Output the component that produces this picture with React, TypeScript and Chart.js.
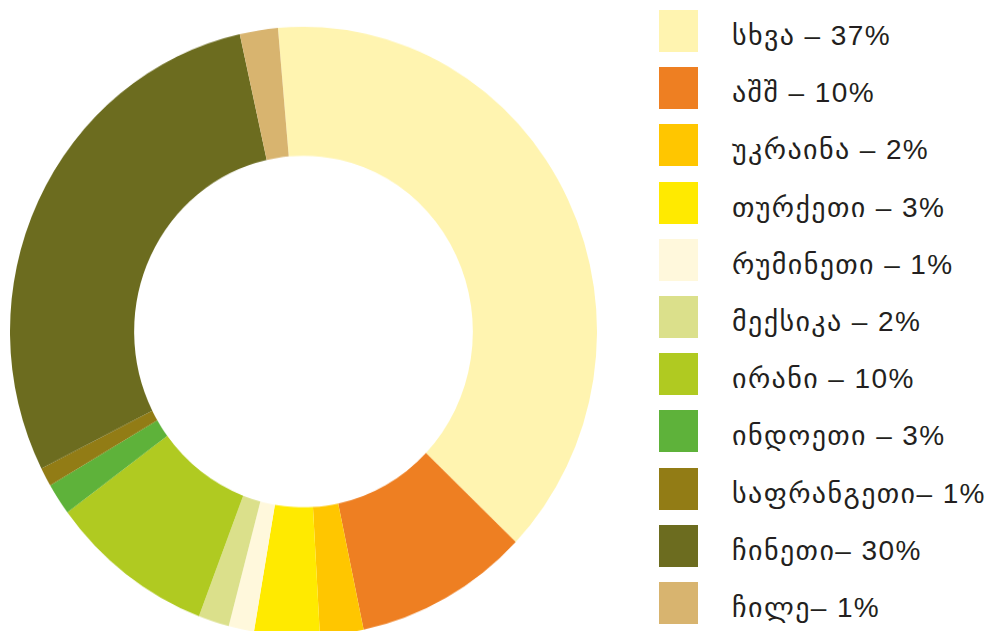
import React, { useEffect, useRef } from "react";
import { Chart, registerables } from "chart.js";

Chart.register(...registerables);

const labels = [
  "სხვა – 37%",
  "აშშ – 10%",
  "უკრაინა – 2%",
  "თურქეთი – 3%",
  "რუმინეთი – 1%",
  "მექსიკა – 2%",
  "ირანი – 10%",
  "ინდოეთი – 3%",
  "საფრანგეთი– 1%",
  "ჩინეთი– 30%",
  "ჩილე– 1%",
];

// slice sizes (degrees converted to %)
const sliceValues = [38.6, 9.6, 2.4, 3.6, 1.4, 1.7, 9.1, 1.7, 1.0, 29.0, 2.1];

const colors = [
  "#FFF4B0",
  "#EE7F22",
  "#FFC600",
  "#FFEA00",
  "#FFF8DC",
  "#DBE08B",
  "#B0CA21",
  "#5EB23A",
  "#927C15",
  "#6C6C1F",
  "#D8B46F",
];

export default function App() {
  const canvasRef = useRef<HTMLCanvasElement | null>(null);

  useEffect(() => {
    if (!canvasRef.current) return;
    const chart = new Chart(canvasRef.current, {
      type: "doughnut",
      data: {
        labels,
        datasets: [
          {
            data: sliceValues,
            backgroundColor: colors,
            borderWidth: 0,
          },
        ],
      },
      options: {
        animation: false,
        responsive: false,
        rotation: -5,
        cutout: "57.7%",
        layout: { padding: 0 },
        plugins: {
          legend: { display: false },
          tooltip: { enabled: false },
        },
      },
    });
    return () => chart.destroy();
  }, []);

  return (
    <div
      style={{
        position: "relative",
        width: 977,
        height: 623,
        overflow: "hidden",
        fontFamily: '"Liberation Sans", "DejaVu Sans", Arial, sans-serif',
      }}
    >
      <div
        style={{
          position: "absolute",
          left: 2,
          top: 30,
          width: 587,
          height: 587,
          transform: "scaleY(1.038)",
          transformOrigin: "50% 50%",
        }}
      >
        <canvas ref={canvasRef} width={587} height={587} style={{ width: 587, height: 587 }} />
      </div>
      <div style={{ position: "absolute", left: 651, top: 2 }}>
        {labels.map((lab, i) => (
          <div
            key={i}
            style={{
              display: "flex",
              alignItems: "center",
              height: 57.2,
            }}
          >
            <div
              style={{
                width: 39,
                height: 42,
                background: colors[i],
                alignSelf: "flex-start",
                flex: "0 0 auto",
              }}
            />
            <span
              style={{
                marginLeft: 34,
                fontSize: 28,
                letterSpacing: 1.4,
                color: "#231F20",
                whiteSpace: "nowrap",
                position: "relative",
                top: 5,
                lineHeight: "42px",
                alignSelf: "flex-start",
              }}
            >
              {lab}
            </span>
          </div>
        ))}
      </div>
    </div>
  );
}
